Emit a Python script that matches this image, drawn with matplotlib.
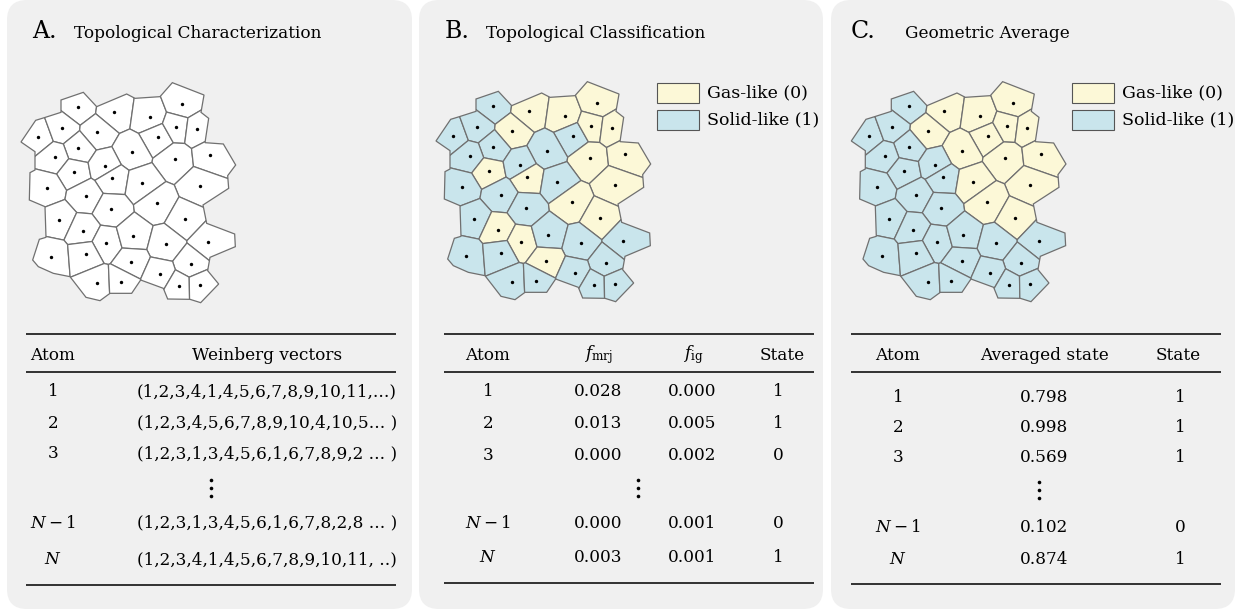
import numpy as np
import matplotlib
matplotlib.use("Agg")
import matplotlib.pyplot as plt
from matplotlib.patches import Polygon, FancyBboxPatch, Rectangle

plt.rcParams['font.family'] = ['DejaVu Serif']
plt.rcParams['mathtext.fontset'] = 'dejavuserif'

# ---------------- data ----------------
# atom (seed) positions of the 2D configuration (diagram units)
seed_x = [235, 342, 449, 547,
          115, 186, 292, 474, 529, 591,
          235, 164, 395, 524, 631,
          221, 315, 337, 141, 427, 599,
          257, 332, 470, 177, 555,
          248, 319, 399, 497, 625,
          154, 257, 394, 572, 479,
          292, 363, 537, 599]
seed_y = [81, 96, 111, 73,
          171, 145, 156, 171, 140, 148,
          205, 231, 216, 238, 226,
          276, 258, 295, 325, 310, 317,
          347, 388, 370, 419, 418,
          452, 489, 467, 493, 485,
          531, 523, 545, 552, 583,
          609, 606, 617, 616]
# 1 = solid-like, 0 = gas-like
class_B = [1, 0, 0, 0,
           1, 1, 0, 1, 0, 0,
           1, 1, 1, 0, 0,
           0, 1, 0, 1, 1, 0,
           1, 1, 0, 1, 0,
           0, 0, 1, 1, 1,
           1, 1, 0, 1, 1,
           1, 1, 1, 1]
class_C = [1, 0, 0, 0,
           1, 1, 0, 0, 0, 0,
           1, 1, 0, 0, 0,
           1, 1, 1, 1, 0, 0,
           1, 1, 0, 1, 0,
           1, 1, 1, 1, 1,
           1, 1, 1, 1, 1,
           1, 1, 1, 1]
# outer boundary of the configuration
boundary_x = [183, 250, 290, 380, 405, 480, 517, 612, 603, 626, 615, 670, 707, 683,
              686, 609, 620, 704, 706, 630, 623, 656, 602, 570, 503, 490, 422, 395,
              330, 300, 258, 210, 160, 115, 98, 118, 138, 135, 88, 90, 105, 105, 63,
              107, 133, 183]
boundary_y = [60, 37, 80, 42, 55, 50, 8, 45, 97, 115, 188, 192, 255, 287,
              325, 375, 430, 462, 500, 532, 572, 612, 668, 658, 657, 625, 600, 640,
              640, 662, 652, 590, 580, 560, 540, 478, 472, 380, 360, 278, 270, 215, 186,
              121, 113, 97]

atoms = ['1', '2', '3', r'$N-1$', r'$N$']
weinberg = ['(1,2,3,4,1,4,5,6,7,8,9,10,11,...)',
            '(1,2,3,4,5,6,7,8,9,10,4,10,5... )',
            '(1,2,3,1,3,4,5,6,1,6,7,8,9,2 ... )',
            '(1,2,3,1,3,4,5,6,1,6,7,8,2,8 ... )',
            '(1,2,3,4,1,4,5,6,7,8,9,10,11, ..)']
f_mrj = [0.028, 0.013, 0.000, 0.000, 0.003]
f_ig = [0.000, 0.005, 0.002, 0.001, 0.001]
state_B = [1, 1, 0, 0, 1]
avg_state = [0.798, 0.998, 0.569, 0.102, 0.874]
state_C = [1, 1, 1, 0, 1]

# ---------------- styles ----------------
W, H = 1242, 611
PANEL = '#f0f0f0'
GAS = '#fcf8d7'
SOLID = '#c9e5ec'
EDGE = '#707070'

fig = plt.figure(figsize=(W / 100, H / 100), dpi=100)
bg = fig.add_axes([0, 0, 1, 1])
bg.set_xlim(0, W)
bg.set_ylim(H, 0)
bg.axis('off')

# panels
for x0, x1 in [(7, 412), (419, 823), (831, 1235)]:
    bg.add_patch(FancyBboxPatch((x0, 0), x1 - x0, 609,
                                boxstyle="round,pad=0,rounding_size=20",
                                fc=PANEL, ec='none'))

# titles
TS = 12.2
bg.text(32, 32, 'A.', fontsize=17, va='center', ha='left')
bg.text(74, 33, 'Topological Characterization', fontsize=TS, va='center', ha='left')
bg.text(445, 32, 'B.', fontsize=17, va='center', ha='left')
bg.text(486, 33, 'Topological Classification', fontsize=TS, va='center', ha='left')
bg.text(851, 32, 'C.', fontsize=17, va='center', ha='left')
bg.text(905, 33, 'Geometric Average', fontsize=TS, va='center', ha='left')


def voronoi_cells(px, py, box=(-300, 1100, -300, 1000)):
    pts = np.column_stack([px, py]).astype(float)
    cells = []
    for i, p in enumerate(pts):
        poly = np.array([[box[0], box[2]], [box[1], box[2]],
                         [box[1], box[3]], [box[0], box[3]]], float)
        for j, q in enumerate(pts):
            if i == j:
                continue
            a = q - p
            b = a @ ((p + q) / 2)
            out = []
            n = len(poly)
            for k in range(n):
                P, Q = poly[k], poly[(k + 1) % n]
                fp, fq = a @ P - b, a @ Q - b
                if fp <= 0:
                    out.append(P)
                if fp * fq < 0:
                    t = fp / (fp - fq)
                    out.append(P + t * (Q - P))
            poly = np.array(out)
            if len(poly) == 0:
                break
        cells.append(poly)
    return cells


cells = voronoi_cells(seed_x, seed_y)


def draw_diagram(left_px, top_px, classes):
    ax = fig.add_axes([left_px / W, 1 - (top_px + 230) / H, 260 / W, 230 / H])
    ax.set_xlim(0, 780)
    ax.set_ylim(690, 0)
    ax.axis('off')
    ax.patch.set_alpha(0)
    outline = Polygon(np.column_stack([boundary_x, boundary_y]), closed=True,
                      fill=False, ec=EDGE, lw=0.9, zorder=3)
    ax.add_patch(outline)
    for k, cell in enumerate(cells):
        if classes is None:
            fc = 'white'
        else:
            fc = SOLID if classes[k] == 1 else GAS
        pg = Polygon(cell, closed=True, fc=fc, ec=EDGE, lw=0.9, zorder=2)
        ax.add_patch(pg)
        pg.set_clip_path(outline)
    ax.scatter(seed_x, seed_y, s=6, c='black', zorder=4, linewidths=0)
    return ax


draw_diagram(0, 80, None)
draw_diagram(415, 79, class_B)
draw_diagram(830.3, 79, class_C)

# legends
for lx in [657, 1072]:
    bg.add_patch(Rectangle((lx, 83), 42, 20, fc=GAS, ec='#555555', lw=0.8))
    bg.add_patch(Rectangle((lx, 110), 42, 20, fc=SOLID, ec='#555555', lw=0.8))
    bg.text(lx + 50, 93, 'Gas-like (0)', fontsize=12.5, va='center', ha='left')
    bg.text(lx + 50, 120, 'Solid-like (1)', fontsize=12.5, va='center', ha='left')

FS = 12.2


def rules(x0, x1, ys):
    for y in ys:
        bg.plot([x0, x1], [y, y], color='#222222', lw=1.3, solid_capstyle='butt')


def vdots(x, y):
    bg.plot([x, x, x], [y - 8, y, y + 8], 'o', color='black', ms=2.6, mec='none')


# table A
rules(26, 396, [334, 372, 585])
bg.text(53, 355, 'Atom', fontsize=FS, ha='center', va='center')
bg.text(267, 355, 'Weinberg vectors', fontsize=FS, ha='center', va='center')
rowsA = [392, 423, 454, 523, 560]
for y, a, w in zip(rowsA, atoms, weinberg):
    bg.text(53, y, a, fontsize=FS, ha='center', va='center')
    bg.text(267, y, w, fontsize=FS, ha='center', va='center')
vdots(211, 488)

# table B
rules(444, 814, [334, 372, 583])
bg.text(488, 355, 'Atom', fontsize=FS, ha='center', va='center')
bg.text(598, 355, r'$f_{\rm mrj}$', fontsize=FS, ha='center', va='center')
bg.text(693, 355, r'$f_{\rm ig}$', fontsize=FS, ha='center', va='center')
bg.text(782, 355, 'State', fontsize=FS, ha='center', va='center')
rowsB = [392, 423, 455, 523, 558]
for y, a, m, g, s in zip(rowsB, atoms, f_mrj, f_ig, state_B):
    bg.text(488, y, a, fontsize=FS, ha='center', va='center')
    bg.text(598, y, f'{m:.3f}', fontsize=FS, ha='center', va='center')
    bg.text(692, y, f'{g:.3f}', fontsize=FS, ha='center', va='center')
    bg.text(778, y, str(s), fontsize=FS, ha='center', va='center')
vdots(638, 488)

# table C
rules(851, 1221, [334, 372, 584])
bg.text(898, 356, 'Atom', fontsize=FS, ha='center', va='center')
bg.text(1044, 356, 'Averaged state', fontsize=FS, ha='center', va='center')
bg.text(1178, 356, 'State', fontsize=FS, ha='center', va='center')
rowsC = [397, 427, 457, 527, 560]
for y, a, v, s in zip(rowsC, atoms, avg_state, state_C):
    bg.text(898, y, a, fontsize=FS, ha='center', va='center')
    bg.text(1044, y, f'{v:.3f}', fontsize=FS, ha='center', va='center')
    bg.text(1180, y, str(s), fontsize=FS, ha='center', va='center')
vdots(1039, 490)

fig.savefig('out.png', dpi=100, facecolor='white')
